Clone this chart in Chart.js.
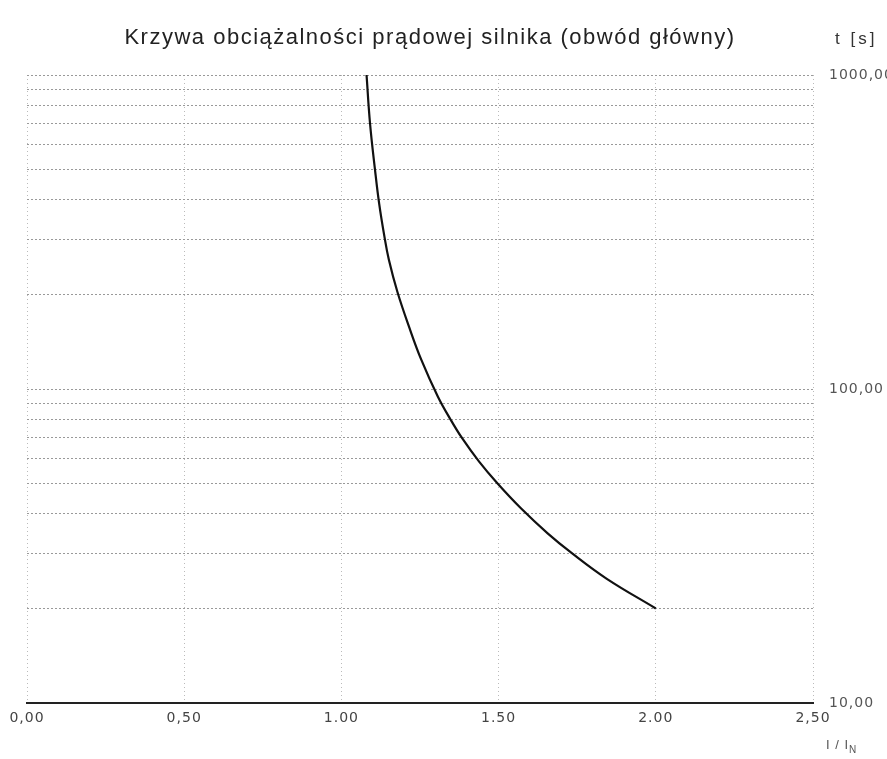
<!DOCTYPE html>
<html>
<head>
<meta charset="utf-8">
<script src="https://cdn.jsdelivr.net/npm/chart.js@4/dist/chart.umd.min.js"></script>
<style>
  body { margin: 0; background: #fff; }
  #wrap { position: relative; width: 887px; height: 759px; overflow: hidden; }
  #chart { position: absolute; left: 0; top: 0; }
  .lbl { position: absolute; font-family: "Liberation Sans", Arial, sans-serif; color: #222; white-space: nowrap; }
  #title { left: 0; width: 860px; top: 24px; text-align: center; font-size: 22px; letter-spacing: 1.5px; }
  #tunit { left: 835px; top: 29px; font-size: 17px; letter-spacing: 3px; color: #333; }
  #xunit { left: 826px; top: 737px; font-size: 13px; letter-spacing: 1px; color: #555; }
  #xunit sub { font-size: 10px; }
</style>
</head>
<body>
<div id="wrap">
  <canvas id="chart" width="887" height="759"></canvas>
  <div class="lbl" id="title">Krzywa obciążalności prądowej silnika (obwód główny)</div>
  <div class="lbl" id="tunit">t [s]</div>
  <div class="lbl" id="xunit">I / I<sub>N</sub></div>
</div>
<script>
// current ratio I/In and tripping time t [s]
const ratio = [1.080, 1.091, 1.107, 1.120, 1.137, 1.151, 1.178, 1.215, 1.254, 1.307, 1.348, 1.384, 1.438, 1.496, 1.571, 1.656, 1.733, 1.843, 2.000];
const timeS = [1000, 702, 498, 390, 305, 258, 204, 158, 124, 94.5, 79.7, 69.7, 58.7, 50.1, 41.7, 34.7, 30.0, 24.9, 20.0];

const xTicks = [0, 0.5, 1.0, 1.5, 2.0, 2.5];
const xTickLabels = ['0,00', '0,50', '1.00', '1.50', '2.00', '2,50'];
const yGrid = [10, 20, 30, 40, 50, 60, 70, 80, 90, 100, 200, 300, 400, 500, 600, 700, 800, 900, 1000];
const yTickLabels = { 10: '10,00', 100: '100,00', 1000: '1000,00' };

const points = ratio.map((x, i) => ({ x: x, y: timeS[i] }));

// wider tick text, like the scanned original
const spacing = {
    id: 'spacing',
    beforeDraw: c => { c.ctx.letterSpacing = '1px'; },
    afterDraw: c => { c.ctx.letterSpacing = '0px'; }
};

new Chart(document.getElementById('chart').getContext('2d'), {
    type: 'line',
    data: {
        datasets: [{
            data: points,
            borderColor: '#111',
            borderWidth: 2.2,
            pointRadius: 0,
            tension: 0.4,
            fill: false
        }]
    },
    options: {
        responsive: false,
        animation: false,
        layout: { padding: { top: 75, left: 27, right: 0, bottom: 0 } },
        plugins: { legend: { display: false }, title: { display: false }, tooltip: { enabled: false } },
        scales: {
            x: {
                type: 'linear',
                min: 0,
                max: 2.5,
                afterBuildTicks: s => { s.ticks = xTicks.map(v => ({ value: v })); },
                afterFit: s => { s.height = 56; },
                ticks: {
                    callback: (v) => xTickLabels[xTicks.indexOf(v)],
                    color: '#444',
                    font: { family: 'DejaVu Sans', size: 14 },
                    padding: 7,
                    maxRotation: 0
                },
                grid: { color: '#bbb', lineWidth: 1, drawTicks: false },
                border: { display: true, color: '#222', width: 2, dash: [1, 3] }
            },
            y: {
                type: 'logarithmic',
                position: 'right',
                min: 10,
                max: 1000,
                afterBuildTicks: s => { s.ticks = yGrid.map(v => ({ value: v })); },
                afterFit: s => { s.width = 74; },
                ticks: {
                    callback: (v) => yTickLabels[v] || '',
                    color: '#555',
                    font: { family: 'DejaVu Sans', size: 14 },
                    padding: 16,
                    autoSkip: false
                },
                grid: { color: '#999', lineWidth: 1, drawTicks: false },
                border: { display: false, dash: [2, 2] }
            }
        }
    },
    plugins: [spacing]
});
</script>
</body>
</html>
